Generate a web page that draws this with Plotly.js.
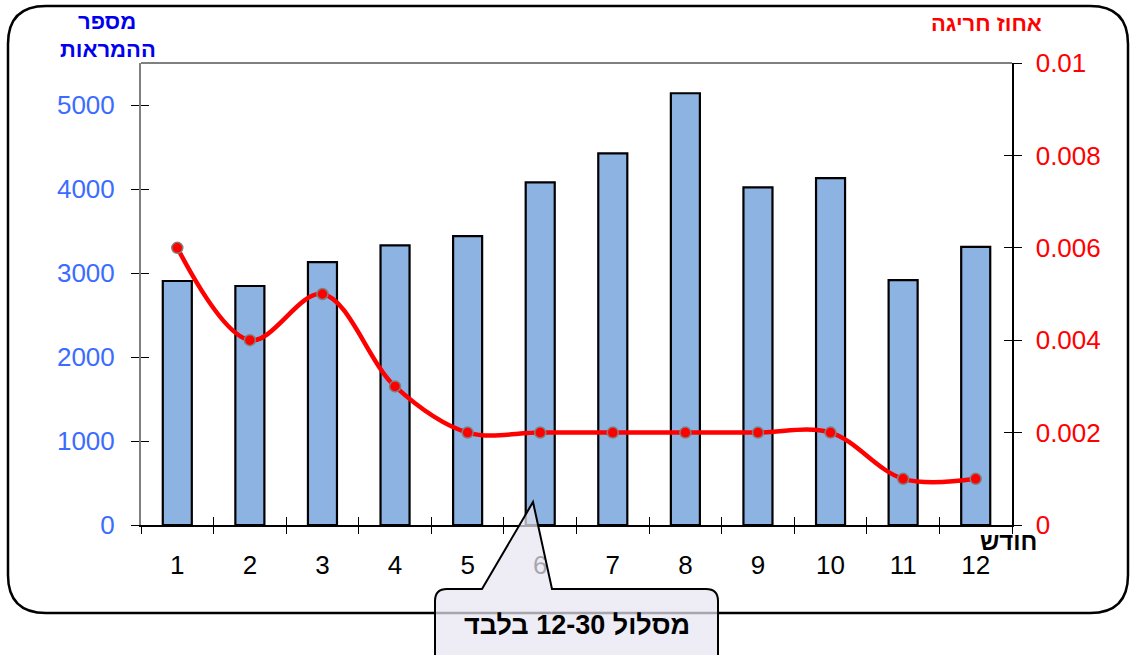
<!DOCTYPE html>
<html><head><meta charset="utf-8">
<script src="https://cdn.plot.ly/plotly-3.0.1.min.js"></script>
<style>html,body{margin:0;padding:0;background:#fff}#c{width:1130px;height:655px}</style>
</head><body><div id="c"></div>
<script>
// ---- data ----
const months = [1,2,3,4,5,6,7,8,9,10,11,12];
const monthLabels = ['1','2','3','4','5','6','7','8','9','10','11','12'];
const takeoffs = [2905,2845,3130,3330,3440,4080,4425,5140,4020,4130,2915,3310];
const exceedPct = [0.006,0.004,0.005,0.003,0.002,0.002,0.002,0.002,0.002,0.002,0.001,0.001];
const leftTicks = [0,1000,2000,3000,4000,5000];
const rightTicks = [0,0.002,0.004,0.006,0.008,0.01];
const rightTickText = ['0','0.002','0.004','0.006','0.008','0.01'];
const boundaries = [0.5,1.5,2.5,3.5,4.5,5.5,6.5,7.5,8.5,9.5,10.5,11.5,12.5];

// ---- layout helpers (pixel -> paper) ----
const L=141, R=1012, T=63, B=525, W=1130, H=655;
const px = x => (x-L)/(R-L);
const py = y => (B-y)/(B-T);
const P = (x,y) => px(x).toFixed(5)+','+py(y).toFixed(5);

function roundRect(x0,y0,x1,y1,r){
  return 'M'+P(x0+r,y0)+' L'+P(x1-r,y0)+' Q'+P(x1,y0)+' '+P(x1,y0+r)+
    ' L'+P(x1,y1-r)+' Q'+P(x1,y1)+' '+P(x1-r,y1)+' L'+P(x0+r,y1)+
    ' Q'+P(x0,y1)+' '+P(x0,y1-r)+' L'+P(x0,y0+r)+' Q'+P(x0,y0)+' '+P(x0+r,y0)+' Z';
}
function callout(){
  const x0=435,x1=718,y0=589,y1=670,r=12;
  return 'M'+P(x0+r,y0)+' L'+P(482,y0)+' L'+P(533,502)+' L'+P(552,y0)+
    ' L'+P(x1-r,y0)+' Q'+P(x1,y0)+' '+P(x1,y0+r)+' L'+P(x1,y1)+' L'+P(x0,y1)+
    ' L'+P(x0,y0+r)+' Q'+P(x0,y0)+' '+P(x0+r,y0)+' Z';
}

const F = 'Liberation Sans, Arial, sans-serif';

const traces = [
  {type:'bar', x:months, y:takeoffs, width:0.4,
   marker:{color:'#8db3e2', line:{color:'#000', width:2.2}}, xaxis:'x', yaxis:'y', hoverinfo:'skip'},
  {type:'scatter', mode:'lines+markers', x:months, y:exceedPct, xaxis:'x', yaxis:'y2',
   line:{color:'#ff0000', width:4.5, shape:'spline', smoothing:1},
   marker:{color:'#ff0000', size:11, line:{color:'#808080', width:1.5}}, hoverinfo:'skip'},
  // invisible carriers so the crossing-tick overlay axes get drawn
  {type:'scatter', mode:'markers', x:months, y:takeoffs, xaxis:'x2', yaxis:'y3',
   marker:{opacity:0}, hoverinfo:'skip'},
  {type:'scatter', mode:'markers', x:months, y:exceedPct, xaxis:'x3', yaxis:'y4',
   marker:{opacity:0}, hoverinfo:'skip'}
];

const tickCommon = {tickcolor:'#000', tickwidth:1, ticklen:8, showgrid:false, zeroline:false};

const layout = {
  width:W, height:H, showlegend:false,
  margin:{l:L, r:W-R, t:T, b:H-B, pad:0},
  paper_bgcolor:'#fff', plot_bgcolor:'#fff',
  font:{family:F, size:26, color:'#000'},
  xaxis:Object.assign({range:[0.5,12.5], tickvals:months, ticktext:monthLabels, ticks:'',
         showline:true, linecolor:'#000', linewidth:1.5,
         tickfont:{family:F, size:26, color:'#000'}, ticklabelstandoff:16}, {showgrid:false, zeroline:false}),
  xaxis2:Object.assign({overlaying:'x', range:[0.5,12.5], tickvals:boundaries, showticklabels:false,
          ticks:'outside', showline:false}, tickCommon),
  xaxis3:Object.assign({overlaying:'x', range:[0.5,12.5], tickvals:boundaries, showticklabels:false,
          ticks:'inside', showline:false}, tickCommon),
  yaxis:Object.assign({range:[0,5500], tickvals:leftTicks, ticks:'outside',
         showline:true, linecolor:'#808080', linewidth:2,
         tickfont:{family:F, size:26, color:'#3c6cff'}, ticklabelstandoff:11}, tickCommon),
  yaxis3:Object.assign({overlaying:'y', range:[0,5500], tickvals:leftTicks, showticklabels:false,
          ticks:'inside', showline:false}, tickCommon),
  yaxis2:Object.assign({overlaying:'y', side:'right', range:[0,0.01], tickvals:rightTicks, ticktext:rightTickText,
          ticks:'outside', showline:true, linecolor:'#000', linewidth:1.5,
          tickfont:{family:F, size:26, color:'#ff0000'}, ticklabelstandoff:9}, tickCommon),
  yaxis4:Object.assign({overlaying:'y', side:'right', range:[0,0.01], tickvals:rightTicks, showticklabels:false,
          ticks:'inside', showline:false}, tickCommon),
  shapes:[
    {type:'path', xref:'paper', yref:'paper', path:roundRect(8,6,1128,613,38),
     line:{color:'#000', width:2.5}, fillcolor:'rgba(0,0,0,0)', layer:'below'},
    {type:'line', xref:'paper', yref:'paper', x0:0, x1:1, y0:1, y1:1, line:{color:'#808080', width:2}},
    {type:'path', xref:'paper', yref:'paper', path:callout(),
     line:{color:'#000', width:2}, fillcolor:'rgba(232,229,240,0.72)', layer:'above'}
  ],
  annotations:[
    {xref:'paper', yref:'paper', x:px(107), y:py(22), xanchor:'center', yanchor:'middle', text:'מספר', showarrow:false,
     font:{family:F, size:22, weight:700, color:'#0000ee'}},
    {xref:'paper', yref:'paper', x:px(108), y:py(49), xanchor:'center', yanchor:'middle', text:'ההמראות', showarrow:false,
     font:{family:F, size:22, weight:700, color:'#0000ee'}},
    {xref:'paper', yref:'paper', x:px(986), y:py(23), xanchor:'center', yanchor:'middle', text:'אחוז חריגה', showarrow:false,
     font:{family:F, size:22, weight:700, color:'#ff0000'}},
    {xref:'paper', yref:'paper', x:px(1008), y:py(541), xanchor:'center', yanchor:'middle', text:'חודש', showarrow:false,
     font:{family:F, size:24, weight:700, color:'#000'}},
    {xref:'paper', yref:'paper', x:px(577), y:py(625), xanchor:'center', yanchor:'middle', text:'מסלול 12-30 בלבד', showarrow:false,
     font:{family:F, size:27, weight:700, color:'#000'}}
  ]
};

Plotly.newPlot('c', traces, layout, {staticPlot:true, displayModeBar:false});
</script></body></html>
